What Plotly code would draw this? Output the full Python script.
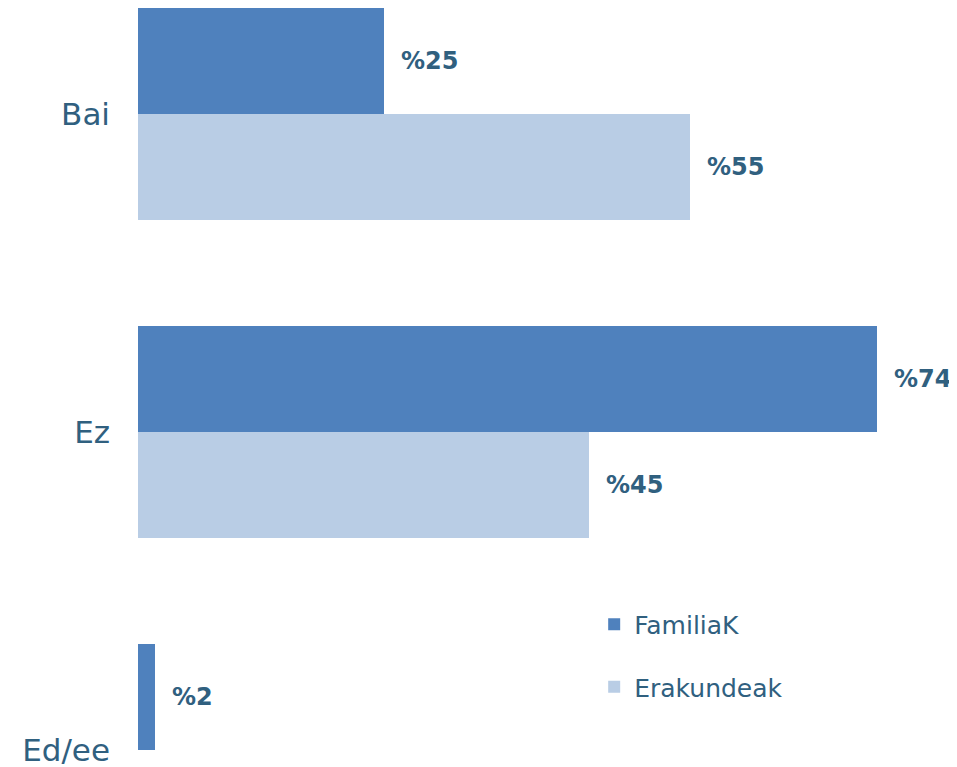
import plotly.graph_objects as go

categories = ["Bai", "Ez", "Ed/ee"]
familiak = [24.6, 73.9, 1.7]
erakundeak = [55.2, 45.1, None]
familiak_labels = ["%25", "%74", "%2"]
erakundeak_labels = ["%55", "%45", ""]

dark = "#4F81BD"
light = "#B9CDE5"
txt = "#30607F"
font_family = "DejaVu Sans"

fig = go.Figure()
fig.add_trace(go.Bar(y=categories, x=familiak, orientation="h", name="FamiliaK",
                     marker=dict(color=dark, line=dict(width=0)), legendgroup="a"))
fig.add_trace(go.Bar(y=categories, x=erakundeak, orientation="h", name="Erakundeak",
                     marker=dict(color=light, line=dict(width=0)), legendgroup="b"))

annotations = []
for i, (v, t) in enumerate(zip(familiak, familiak_labels)):
    if v is not None and t:
        annotations.append(dict(x=v, y=i - 1/6, text="<b>%s</b>" % t, xanchor="left",
                                xshift=15, showarrow=False,
                                font=dict(size=24, color=txt, family=font_family)))
for i, (v, t) in enumerate(zip(erakundeak, erakundeak_labels)):
    if v is not None and t:
        annotations.append(dict(x=v, y=i + 1/6, text="<b>%s</b>" % t, xanchor="left",
                                xshift=15, showarrow=False,
                                font=dict(size=24, color=txt, family=font_family)))

fig.update_layout(
    width=949, height=759,
    margin=dict(l=130, r=0, t=0, b=0),
    paper_bgcolor="white", plot_bgcolor="white",
    barmode="group", bargap=1/3, bargroupgap=0,
    showlegend=True,
    legend=dict(x=0.557, y=0.218, xanchor="left", yanchor="top",
                traceorder="grouped", tracegroupgap=27,
                font=dict(size=25, color=txt, family=font_family),
                bgcolor="rgba(0,0,0,0)"),
    xaxis=dict(range=[0, 81.9], visible=False, showgrid=False, zeroline=False),
    yaxis=dict(range=[2.0535, -0.3333], showgrid=False, zeroline=False, showline=False,
               ticks="", ticklabelstandoff=27,
               tickfont=dict(size=31, color=txt, family=font_family)),
    annotations=annotations,
)

fig.write_html("out.html")
